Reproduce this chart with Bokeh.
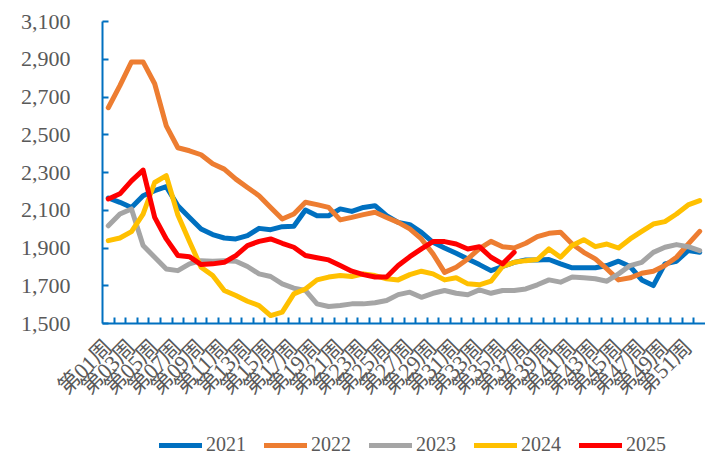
import math
from bokeh.plotting import figure
from bokeh.layouts import column
from bokeh.models import (Range1d, FixedTicker, NumeralTickFormatter, Legend, LegendItem)
from bokeh.embed import file_html
from bokeh.resources import INLINE

weeks = list(range(1, 53))
week_labels = {w: "第%02d周" % w for w in range(1, 53, 2)}

s2021 = [2165, 2142, 2115, 2177, 2204, 2225, 2124, 2062, 2001, 1971, 1953, 1948, 1966, 2004, 1997, 2013,
         2015, 2101, 2071, 2071, 2107, 2094, 2115, 2124, 2071, 2036, 2024, 1983, 1930, 1900, 1872, 1842,
         1812, 1780, 1802, 1824, 1837, 1837, 1839, 1816, 1795, 1795, 1795, 1807, 1830, 1802, 1731, 1701,
         1816, 1830, 1886, 1877]
s2022 = [2643, 2760, 2886, 2886, 2770, 2547, 2431, 2415, 2394, 2346, 2318, 2265, 2221, 2177, 2115, 2054,
         2080, 2142, 2130, 2115, 2049, 2062, 2077, 2089, 2062, 2036, 2001, 1948, 1869, 1771, 1798, 1842,
         1897, 1935, 1907, 1900, 1925, 1960, 1978, 1983, 1921, 1877, 1842, 1789, 1731, 1742, 1766, 1777,
         1807, 1851, 1921, 1988]
s2023 = [2018, 2080, 2107, 1913, 1851, 1789, 1780, 1816, 1833, 1830, 1833, 1830, 1802, 1763, 1749, 1710,
         1687, 1675, 1604, 1590, 1595, 1604, 1604, 1610, 1622, 1653, 1666, 1639, 1660, 1675, 1660, 1652,
         1678, 1660, 1675, 1675, 1683, 1705, 1731, 1719, 1746, 1742, 1737, 1724, 1763, 1807, 1824, 1877,
         1904, 1918, 1907, 1886]
s2024 = [1939, 1953, 1987, 2080, 2247, 2283, 2075, 1935, 1798, 1754, 1675, 1648, 1618, 1595, 1542, 1560,
         1657, 1683, 1731, 1746, 1754, 1749, 1763, 1754, 1737, 1731, 1759, 1777, 1763, 1731, 1742, 1710,
         1705, 1724, 1802, 1824, 1833, 1839, 1895, 1851, 1913, 1944, 1907, 1921, 1900, 1948, 1988, 2027,
         2040, 2080, 2128, 2151]
s2025 = [2160, 2187, 2256, 2313, 2062, 1948, 1860, 1854, 1812, 1816, 1824, 1860, 1913, 1935, 1948, 1925,
         1904, 1860, 1848, 1837, 1807, 1777, 1759, 1746, 1746, 1807, 1854, 1895, 1934, 1934, 1921, 1895,
         1907, 1851, 1816, 1877]

series_names = ["2021", "2022", "2023", "2024", "2025"]
series_values = [s2021, s2022, s2023, s2024, s2025]
series_colors = ["#0070C0", "#ED7D31", "#A5A5A5", "#FFC000", "#FF0000"]
y_ticks = list(range(1500, 3101, 200))

FONT = "Liberation Serif, Noto Sans CJK SC"
TEXT_COLOR = "#595959"
AXIS_COLOR = "#0070C0"

# ---- main chart ----
p = figure(width=705, height=426, output_backend="svg", toolbar_location=None,
           x_range=Range1d(0.5, 52.5), y_range=Range1d(1500, 3100),
           min_border_left=102, min_border_right=0, min_border_top=21, min_border_bottom=103)
p.outline_line_color = None
p.xgrid.visible = False
p.ygrid.visible = False
p.background_fill_color = "white"
p.border_fill_color = "white"

for name, vals, col in zip(series_names, series_values, series_colors):
    p.line(weeks[:len(vals)], vals, line_color=col, line_width=5,
           line_join="round", line_cap="round")

xa = p.xaxis[0]
xa.ticker = FixedTicker(ticks=list(range(1, 53, 2)), minor_ticks=[w + 0.5 for w in range(1, 52)])
xa.major_label_overrides = week_labels
xa.major_label_orientation = math.pi / 4
xa.major_tick_line_color = None
xa.minor_tick_in = 6
xa.minor_tick_out = 0
xa.minor_tick_line_color = AXIS_COLOR
xa.minor_tick_line_width = 2
xa.axis_line_color = AXIS_COLOR
xa.axis_line_width = 2
xa.major_label_text_font = FONT
xa.major_label_text_font_size = "22px"
xa.major_label_text_color = TEXT_COLOR
xa.major_label_standoff = 14

ya = p.yaxis[0]
ya.ticker = FixedTicker(ticks=y_ticks)
ya.formatter = NumeralTickFormatter(format="0,0")
ya.major_tick_in = 6
ya.major_tick_out = 0
ya.major_tick_line_color = AXIS_COLOR
ya.major_tick_line_width = 2
ya.minor_tick_line_color = None
ya.axis_line_color = AXIS_COLOR
ya.axis_line_width = 2
ya.major_label_text_font = FONT
ya.major_label_text_font_size = "22px"
ya.major_label_text_color = TEXT_COLOR
ya.major_label_standoff = 32

# ---- legend strip ----
p2 = figure(width=705, height=31, output_backend="svg", toolbar_location=None,
            x_range=Range1d(0.5, 52.5), y_range=Range1d(0, 1),
            x_axis_location=None, y_axis_location=None,
            min_border_left=0, min_border_right=0, min_border_top=0, min_border_bottom=0)
p2.outline_line_color = None
p2.xgrid.visible = False
p2.ygrid.visible = False
p2.background_fill_color = "white"
p2.border_fill_color = "white"

legend_items = []
for name, vals, col in zip(series_names, series_values, series_colors):
    r = p2.line(weeks[:len(vals)], vals, line_color=col, line_width=5,
                line_join="round", line_cap="round")
    legend_items.append(LegendItem(label=name, renderers=[r]))

legend = Legend(items=legend_items, orientation="horizontal", location=(57, 1),
                glyph_width=43, glyph_height=20, label_height=20, label_standoff=4, spacing=18,
                padding=0, margin=0,
                label_text_font=FONT, label_text_font_size="20px", label_text_color=TEXT_COLOR,
                border_line_color=None, background_fill_alpha=0)
p2.add_layout(legend, "center")

layout = column(p, p2, spacing=0)
open("out.html", "w").write(file_html(layout, INLINE))
